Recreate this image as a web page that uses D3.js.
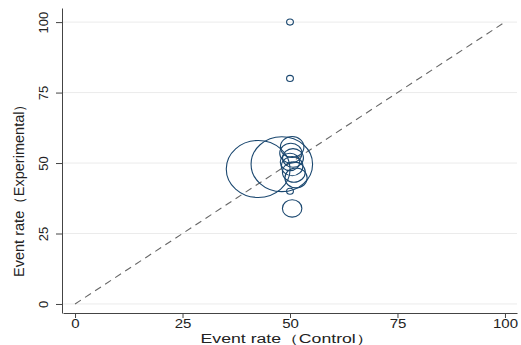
<!DOCTYPE html>
<html><head><meta charset="utf-8">
<script src="https://cdn.jsdelivr.net/npm/d3@7"></script>
<style>body{margin:0;background:#fff;} svg{display:block;font-family:"Liberation Sans",Arial,sans-serif;}</style>
</head><body>
<svg id="chart" width="521" height="345"></svg>
<script>
// Data (study-level event rates, %)
const controlRate = [42.6, 48.1, 50.5, 50.2, 50.7, 50.0, 50.5, 50.9, 51.4, 50.5, 50.0, 50.0, 50.0];
const experimentalRate = [47.9, 49.6, 55.7, 53.5, 51.8, 50.4, 48.9, 46.8, 44.7, 33.9, 40.0, 80.0, 100.0];
const weights = [700, 650, 95, 85, 75, 65, 80, 90, 85, 65, 8, 8, 8];
const xTicks = [0, 25, 50, 75, 100];
const yTicks = [0, 25, 50, 75, 100];
const xTitle = "Event rate（Control）";
const yTitle = "Event rate（Experimental）";

const svg = d3.select("#chart");
const x = d3.scaleLinear().domain([-2.8, 102.8]).range([63, 517]);
const y = d3.scaleLinear().domain([-3.2, 105]).range([313, 8]);
const r = d3.scaleSqrt().domain([0, 700]).range([0, 28.5]);
const stretch = 1.12;

// gridlines
svg.append("g").selectAll("line").data(yTicks).join("line")
  .attr("x1", x(-2.8)).attr("x2", x(102.8))
  .attr("y1", d => y(d)).attr("y2", d => y(d))
  .attr("stroke", "#ebebeb").attr("stroke-width", 1);

// diagonal reference line
svg.append("line")
  .attr("x1", x(0)).attr("y1", y(0)).attr("x2", x(100)).attr("y2", y(100))
  .attr("stroke", "#666").attr("stroke-width", 1.1).attr("stroke-dasharray", "7,5");

// bubbles
const pts = controlRate.map((c, i) => ({c, e: experimentalRate[i], w: weights[i]}));
svg.append("g").selectAll("ellipse").data(pts).join("ellipse")
  .attr("cx", d => x(d.c)).attr("cy", d => y(d.e))
  .attr("rx", d => r(d.w) * stretch).attr("ry", d => r(d.w))
  .attr("fill", "none").attr("stroke", "#1a476f").attr("stroke-width", 1.1);

// axes
const xAxis = svg.append("g").attr("transform", "translate(0,313)")
  .call(d3.axisBottom(x).tickValues(xTicks).tickSize(5).tickSizeOuter(0));
xAxis.selectAll("text").attr("font-size", 12).attr("fill", "#222")
  .attr("font-family", "Liberation Sans, Arial, sans-serif")
  .attr("y", 15).attr("dy", 0)
  .attr("transform", "scale(1.25,1)");
const yAxis = svg.append("g").attr("transform", "translate(62,0)")
  .call(d3.axisLeft(y).tickValues(yTicks).tickSize(6).tickSizeOuter(0));
yAxis.selectAll("text").attr("font-size", 13).attr("fill", "#222")
  .attr("font-family", "Liberation Sans, Arial, sans-serif")
  .attr("text-anchor", "middle")
  .attr("transform", "translate(-14,0) rotate(-90)")
  .attr("x", 0).attr("dy", "0");
[xAxis, yAxis].forEach(a => {
  a.select(".domain").attr("stroke", "#444");
  a.selectAll(".tick line").attr("stroke", "#444");
});

// titles
svg.append("text").attr("x", 287).attr("y", 343).attr("text-anchor", "middle")
  .attr("font-size", 12).attr("fill", "#222")
  .attr("textLength", 173).attr("lengthAdjust", "spacingAndGlyphs").text(xTitle);
svg.append("text").attr("transform", "translate(24,187) rotate(-90)")
  .attr("text-anchor", "middle").attr("font-size", 14).attr("fill", "#222")
  .attr("textLength", 180).attr("lengthAdjust", "spacingAndGlyphs").text(yTitle);
</script>
</body></html>
